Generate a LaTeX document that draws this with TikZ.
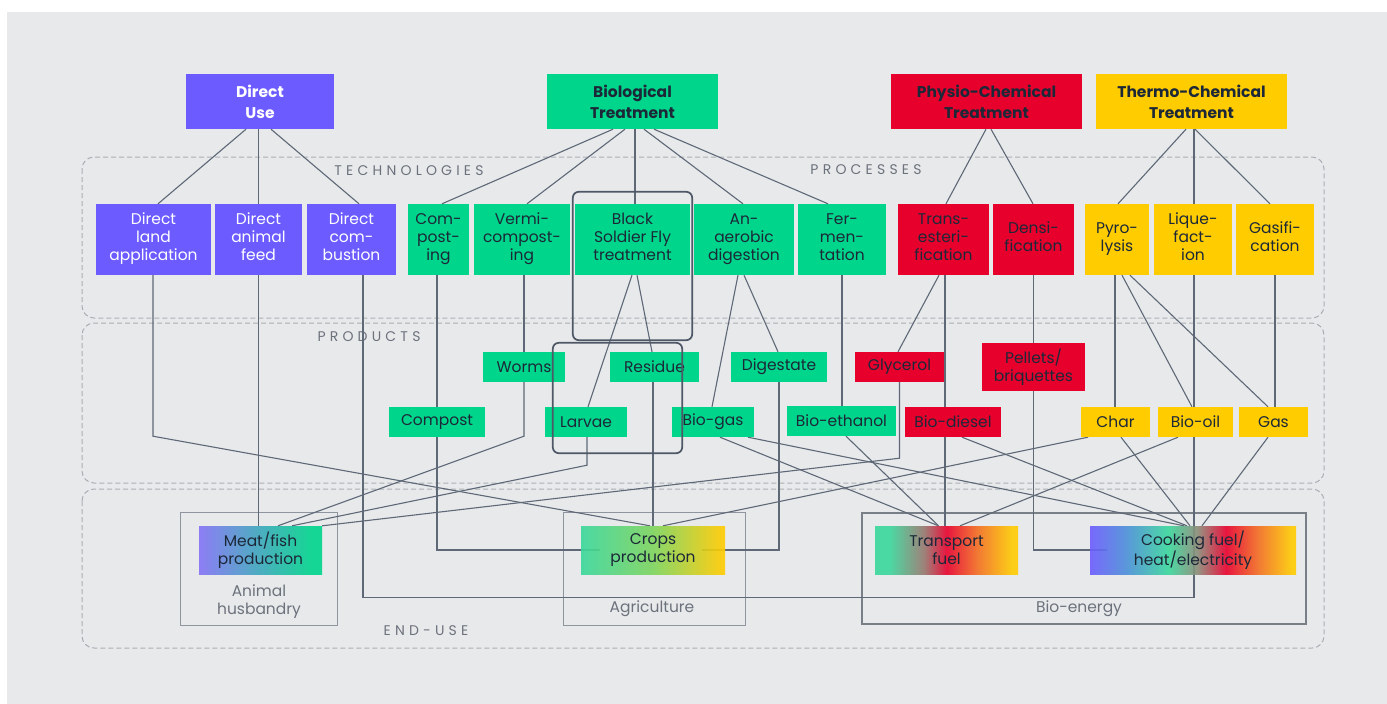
\documentclass[tikz,border=0pt]{standalone}
\usepackage{fontspec}
\setmainfont{Poppins}
\usetikzlibrary{calc}

% palette
\definecolor{bgc}{RGB}{232,233,235}
\definecolor{cpurple}{RGB}{108,92,255}
\definecolor{cgreen}{RGB}{0,214,139}
\definecolor{cred}{RGB}{232,0,45}
\definecolor{cyellow}{RGB}{255,204,0}
\definecolor{ink}{RGB}{28,40,56}
\definecolor{wirec}{RGB}{94,104,119}
\definecolor{dashc}{RGB}{170,174,180}
\definecolor{labc}{RGB}{108,114,124}
\definecolor{grpc}{RGB}{142,149,158}
\definecolor{bsfc}{RGB}{78,88,102}
% gradient stops
\definecolor{gPur}{RGB}{132,114,246}
\definecolor{gGrn}{RGB}{0,212,140}
\definecolor{gMint}{RGB}{58,216,156}
\definecolor{cropMid}{RGB}{125,213,92}
\definecolor{fuelMid}{RGB}{150,120,110}
\definecolor{heatBlue}{RGB}{74,144,216}
\definecolor{heatMid}{RGB}{140,140,120}
\definecolor{orng}{RGB}{244,112,32}

% horizontal gradients (box spans 25bp..75bp)
\pgfdeclarehorizontalshading{meatgrad}{100bp}{color(0bp)=(gPur); color(25bp)=(gPur); color(70bp)=(gGrn); color(100bp)=(gGrn)}
\pgfdeclarehorizontalshading{cropgrad}{100bp}{color(0bp)=(gMint); color(25bp)=(gMint); color(50bp)=(cropMid); color(74bp)=(cyellow); color(100bp)=(cyellow)}
\pgfdeclarehorizontalshading{fuelgrad}{100bp}{color(0bp)=(gMint); color(30bp)=(gMint); color(42bp)=(fuelMid); color(50bp)=(cred); color(61bp)=(orng); color(73bp)=(cyellow); color(100bp)=(cyellow)}
\pgfdeclarehorizontalshading{heatgrad}{100bp}{color(0bp)=(cpurple); color(25bp)=(cpurple); color(34bp)=(heatBlue); color(44bp)=(gMint); color(51bp)=(heatMid); color(58bp)=(cred); color(66bp)=(orng); color(74bp)=(cyellow); color(100bp)=(cyellow)}

\tikzset{
  boxbase/.style={rectangle, inner sep=0pt, align=center, text=ink,
    font=\fontsize{15.5}{18}\selectfont},
  headbox/.style={boxbase, minimum height=55pt,
    font=\fontsize{15.5}{21}\selectfont\bfseries},
  techbox/.style={boxbase, minimum height=71pt,
    execute at begin node=\strut, execute at end node=\strut},
  prodbox/.style={boxbase, minimum height=30pt},
  usebox/.style={boxbase, minimum height=48pt, shade, fill opacity=0.9, text opacity=1},
  purplebox/.style={fill=cpurple, text=white},
  greenbox/.style={fill=cgreen},
  redbox/.style={fill=cred},
  yellowbox/.style={fill=cyellow},
  wire/.style={draw=wirec, line width=1.1pt},
  zonebox/.style={draw=dashc, dash pattern=on 5pt off 3pt, line width=1pt, rounded corners=12pt},
  grpbox/.style={draw=grpc, line width=1.3pt},
  bsfgroup/.style={draw=bsfc, line width=1.7pt, rounded corners=6pt},
  grplab/.style={align=center, inner sep=0pt, text=labc, font=\fontsize{15.5}{18}\selectfont},
  seclab/.style={inner sep=0pt, text=labc,
    font=\fontsize{14}{14}\selectfont\addfontfeature{LetterSpace=30}},
}

\begin{document}
\begin{tikzpicture}[x=1pt, y=-1pt]
% canvas
\useasboundingbox (0,0) rectangle (1387,704);
\fill[white] (0,0) rectangle (1387,704);
\fill[bgc] (7,12) rectangle (1387,704);

% dashed bands
\draw[zonebox] (82,157) rectangle (1324,318);
\draw[zonebox] (82,323) rectangle (1324,483);
\draw[zonebox] (82,489) rectangle (1324,648);

\node[seclab] (lt) at (409,171) {TECHNOLOGIES};
\node[seclab] (lp) at (866,170) {PROCESSES};
\node[seclab] (lr) at (369,337) {PRODUCTS};
\node[seclab] (le) at (426,631) {END-USE};

% category heads
\node[headbox, purplebox, minimum width=148pt] (du) at (260,101.5) {Direct\\Use};
\node[headbox, greenbox, minimum width=171pt] (bt) at (632.5,101.5) {Biological\\Treatment};
\node[headbox, redbox, minimum width=191pt] (pc) at (986.5,101.5) {Physio-Chemical\\Treatment};
\node[headbox, yellowbox, minimum width=191pt] (tc) at (1191.5,101.5) {Thermo-Chemical\\Treatment};

% technologies / processes
\node[techbox, purplebox, minimum width=115pt] (dla) at (153.5,239.5) {Direct\\land\\application};
\node[techbox, purplebox, minimum width=87pt] (daf) at (258.5,239.5) {Direct\\animal\\feed};
\node[techbox, purplebox, minimum width=89pt] (dcb) at (351.5,239.5) {Direct\\com-\\bustion};
\node[techbox, greenbox, minimum width=61pt] (cmp) at (438.5,239.5) {Com-\\post-\\ing};
\node[techbox, greenbox, minimum width=96pt] (vrm) at (522,239.5) {Vermi-\\compost-\\ing};
\node[techbox, greenbox, minimum width=115pt] (bsf) at (632.5,239.5) {Black\\Soldier Fly\\treatment};
\node[techbox, greenbox, minimum width=100pt] (ana) at (744,239.5) {An-\\aerobic\\digestion};
\node[techbox, greenbox, minimum width=88pt] (fer) at (842,239.5) {Fer-\\men-\\tation};
\node[techbox, redbox, minimum width=91pt] (tra) at (943.5,239.5) {Trans-\\esteri-\\fication};
\node[techbox, redbox, minimum width=81pt] (den) at (1033.5,239.5) {Densi-\\fication};
\node[techbox, yellowbox, minimum width=64pt] (pyr) at (1117,239.5) {Pyro-\\lysis};
\node[techbox, yellowbox, minimum width=78pt] (liq) at (1193,239.5) {Lique-\\fact-\\ion};
\node[techbox, yellowbox, minimum width=78pt] (gsf) at (1275,239.5) {Gasifi-\\cation};

% end-use anchors (boxes are painted later, over the wires)
\path (260.5,550) node[boxbase, minimum width=123pt, minimum height=48pt] (mfp) {};
\path (653,550) node[boxbase, minimum width=144pt, minimum height=48pt] (crp) {};
\path (946.5,550) node[boxbase, minimum width=143pt, minimum height=48pt] (trf) {};
\path (1193,550) node[boxbase, minimum width=206pt, minimum height=48pt] (ckf) {};

% product anchors (painted after the wires)
\path (524,367) node[prodbox, minimum width=82pt] (wrm) {};
\path (654.5,367) node[prodbox, minimum width=89pt] (res) {};
\path (779,367) node[prodbox, minimum width=96pt] (dig) {};
\path (899.5,367) node[prodbox, minimum width=89pt] (gly) {};
\path (1033.5,367) node[prodbox, minimum width=103pt, minimum height=48pt] (pel) {};
\path (437,422) node[prodbox, minimum width=96pt] (cpt) {};
\path (586,422) node[prodbox, minimum width=82pt] (lar) {};
\path (713,422) node[prodbox, minimum width=82pt] (bgs) {};
\path (841.5,421) node[prodbox, minimum width=109pt] (bet) {};
\path (953,422) node[prodbox, minimum width=96pt] (bds) {};
\path (1115.5,422) node[prodbox, minimum width=69pt] (chr) {};
\path (1195.5,422) node[prodbox, minimum width=75pt] (boi) {};
\path (1273.5,422) node[prodbox, minimum width=69pt] (gas) {};

% end-use groupings
\draw[grpbox] ($(mfp.north west)+(-18,-13)$) rectangle ($(mfp.south east)+(15,51)$);
\draw[grpbox] ($(crp.north west)+(-17,-13)$) rectangle ($(crp.south east)+(20,51)$);
\draw[grpbox, line width=2pt, draw=grpc!85!black] ($(trf.north west)+(-13,-13)$) rectangle ($(ckf.south east)+(10,50)$);
\node[grplab] (ahl) at (259,602) {Animal\\husbandry};
\node[grplab] (agl) at (652,609) {Agriculture};
\node[grplab] (bel) at (1079,609) {Bio-energy};

% heads to technologies
\draw[wire] ($(du.south)+(-14,0)$) -- ($(dla.north)+(4.5,0)$);
\draw[wire] (daf.north) -- (daf.north |- du.south);
\draw[wire] ($(du.south)+(11,0)$) -- ($(dcb.north)+(7.5,0)$);
\draw[wire] ($(bt.south)+(-19.5,0)$) -- ($(cmp.north)+(3.5,0)$);
\draw[wire] ($(bt.south)+(-7.5,0)$) -- ($(vrm.north)+(5,0)$);
\draw[wire] ($(bsf.north)+(2.5,0)$) -- ($(bt.south)+(2.5,0)$);
\draw[wire] ($(bt.south)+(11.5,0)$) -- ($(ana.north)+(-1,0)$);
\draw[wire] ($(bt.south)+(21.5,0)$) -- ($(fer.north)+(-14,0)$);
\draw[wire] ($(pc.south)+(-0.5,0)$) -- ($(tra.north)+(2.5,0)$);
\draw[wire] ($(pc.south)+(4.5,0)$) -- ($(den.north)+(-0.5,0)$);
\draw[wire] ($(tc.south)+(-5.5,0)$) -- ($(pyr.north)+(1,0)$);
\draw[wire] ($(liq.north)+(1,0)$) -- ($(tc.south)+(2.5,0)$);
\draw[wire] ($(tc.south)+(3.5,0)$) -- ($(gsf.north)+(-5,0)$);

% technologies to products / end-use
\draw[wire] ($(dla.south)+(-0.5,0)$) -- ++(0,161) -- ($(crp.north)+(-3,0)$);
\draw[wire] (daf.south) -- (daf.south |- mfp.north);
\draw[wire] ($(dcb.south)+(11.5,0)$) -- ++(0,322) -| ($(liq.south)+(1,0)$);
\draw[wire] ($(cmp.south)+(-1.5,0)$) |- ($(crp.west)+(19,0)$);
\draw[wire] (wrm.north) -- (wrm.north |- vrm.south);
\draw[wire] (wrm.south) -- ++(0,54) -- ($(mfp.north)+(17.5,0)$);
\draw[wire] ($(bsf.south)+(-0.5,0)$) -- ($(lar.north)+(2,0)$);
\draw[wire] ($(bsf.south)+(4.5,0)$) -- ($(res.north)+(-2.5,0)$);
\draw[wire] ($(lar.south)+(1,0)$) -- ++(0,28) -- ($(mfp.north)+(31.5,0)$);
\draw[wire] (res.south -| crp.north) -- (crp.north);
\draw[wire] ($(ana.south)+(-6,0)$) -- ($(bgs.north)+(-1,0)$);
\draw[wire] (ana.south) -- ($(dig.north)+(-1,0)$);
\draw[wire] (dig.south) |- ($(crp.east)+(-23,0)$);
\draw[wire] ($(bgs.south)+(7,0)$) -- ($(trf.north)+(-8,0)$);
\draw[wire] ($(bgs.south)+(35,0)$) -- ($(ckf.north)+(-9,0)$);
\draw[wire] (bet.north -| fer.south) -- (fer.south);
\draw[wire] ($(bet.south)+(4.5,0)$) -- ($(trf.north)+(-8,0)$);
\draw[wire] ($(tra.south)+(-4.5,0)$) -- ($(gly.north)+(-1.5,0)$);
\draw[wire] ($(tra.south)+(1.5,0)$) -- ($(bds.north)+(-8,0)$);
\draw[wire] ($(bds.south)+(-8,0)$) -- ($(trf.north)+(-1.5,0)$);
\draw[wire] (gly.south) -- ++(0,76) -- (mfp.north east);
\draw[wire] ($(bds.south)+(9,0)$) -- ($(ckf.north)+(-6,0)$);
\draw[wire] (pel.north) -- (pel.north |- den.south);
\draw[wire] (pel.south) |- ($(ckf.west)+(17,0)$);
\draw[wire] ($(pyr.south)+(-2,0)$) -- ($(chr.north)+(-0.5,0)$);
\draw[wire] ($(pyr.south)+(5,0)$) -- ($(boi.north)+(-3.5,0)$);
\draw[wire] ($(pyr.south)+(13,0)$) -- ($(gas.north)+(-5.5,0)$);
\draw[wire] (gsf.south) -- ($(gas.north)+(1.5,0)$);
\draw[wire] ($(chr.south)+(-27.5,0)$) -- ($(crp.north)+(10,0)$);
\draw[wire] ($(chr.south)+(5.5,0)$) -- ($(ckf.north)+(-3,0)$);
\draw[wire] ($(boi.south)+(-17.5,0)$) -- ($(trf.north)+(13.5,0)$);
\draw[wire] ($(gas.south)+(-5.5,0)$) -- ($(ckf.north)+(9,0)$);

% products
\node[prodbox, greenbox, minimum width=82pt] at (wrm) {Worms};
\node[prodbox, greenbox, minimum width=89pt] at (res) {Residue};
\node[prodbox, greenbox, minimum width=96pt] at (dig) {Digestate};
\node[prodbox, redbox, minimum width=89pt] at (gly) {Glycerol};
\node[prodbox, redbox, minimum width=103pt, minimum height=48pt] at (pel) {Pellets/\\briquettes};
\node[prodbox, greenbox, minimum width=96pt] at (cpt) {Compost};
\node[prodbox, greenbox, minimum width=82pt] at (lar) {Larvae};
\node[prodbox, greenbox, minimum width=82pt] at (bgs) {Bio-gas};
\node[prodbox, greenbox, minimum width=109pt] at (bet) {Bio-ethanol};
\node[prodbox, redbox, minimum width=96pt] at (bds) {Bio-diesel};
\node[prodbox, yellowbox, minimum width=69pt] at (chr) {Char};
\node[prodbox, yellowbox, minimum width=75pt] at (boi) {Bio-oil};
\node[prodbox, yellowbox, minimum width=69pt] at (gas) {Gas};

% end-use boxes
\node[usebox, shading=meatgrad, minimum width=123pt] at (mfp) {Meat/fish\\production};
\node[usebox, shading=cropgrad, minimum width=144pt] at (crp) {Crops\\production};
\node[usebox, shading=fuelgrad, minimum width=143pt] at (trf) {Transport\\fuel};
\node[usebox, shading=heatgrad, minimum width=206pt] at (ckf) {Cooking fuel/\\heat/electricity};

% black soldier fly groupings
\draw[bsfgroup] ($(bsf.north west)+(-2,-12)$) rectangle ($(bsf.south east)+(2,65)$);
\draw[bsfgroup] ($(lar.north west)+(8,-64)$) rectangle ($(res.south east)+(-17,71)$);
\end{tikzpicture}
\end{document}
